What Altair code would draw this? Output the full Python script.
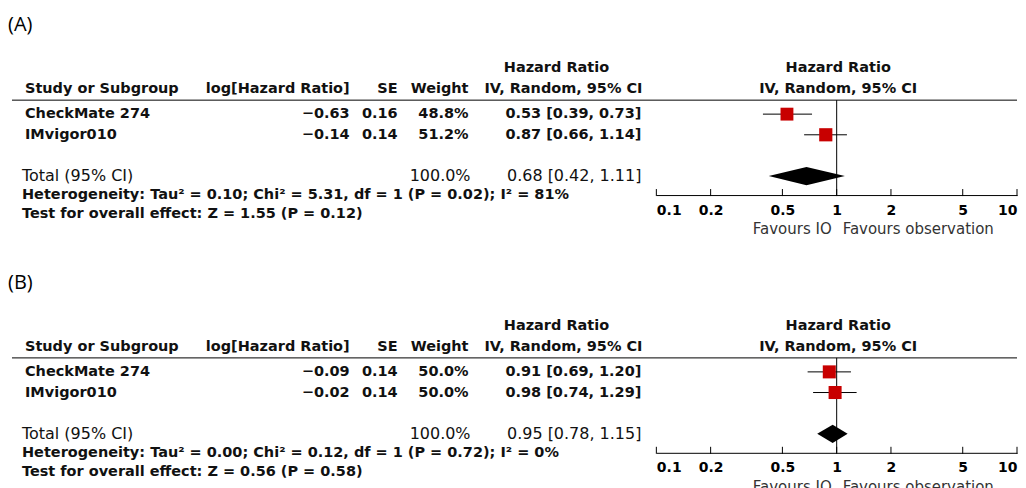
import altair as alt
import pandas as pd

# ---------------- data ----------------
studies = ["CheckMate 274", "IMvigor010"]

a_loghr = [-0.63, -0.14]
a_se = [0.16, 0.14]
a_weight = [48.8, 51.2]
a_hr = [0.53, 0.87]
a_lo = [0.39, 0.66]
a_hi = [0.73, 1.14]
a_total = [0.68, 0.42, 1.11]
a_het = "Heterogeneity: Tau² = 0.10; Chi² = 5.31, df = 1 (P = 0.02); I² = 81%"
a_test = "Test for overall effect: Z = 1.55 (P = 0.12)"

b_loghr = [-0.09, -0.02]
b_se = [0.14, 0.14]
b_weight = [50.0, 50.0]
b_hr = [0.91, 0.98]
b_lo = [0.69, 0.74]
b_hi = [1.20, 1.29]
b_total = [0.95, 0.78, 1.15]
b_het = "Heterogeneity: Tau² = 0.00; Chi² = 0.12, df = 1 (P = 0.72); I² = 0%"
b_test = "Test for overall effect: Z = 0.56 (P = 0.58)"

tick_values = [0.1, 0.2, 0.5, 1, 2, 5, 10]
col_headers = ["Study or Subgroup", "log[Hazard Ratio]", "SE", "Weight"]

# ---------------- style ----------------
W, H = 1010, 187
FONT = "DejaVu Sans"
FS = 14.5
FS_TOT = 16
TXT = "#111111"
RED = "#c80000"

xs = alt.Scale(type="log", domain=[0.1, 10], range=[649, 1010], nice=False)
ys = alt.Scale(domain=[0, 3], range=[106, 168], nice=False, zero=False)
xaxis = alt.Axis(values=tick_values, format="~g", ticks=False, grid=False, title=None,
                 domainColor="black", domainWidth=1, labelFont=FONT, labelFontSize=14,
                 labelFontWeight="bold", labelColor="black", labelPadding=8, labelFlush=True)

one = pd.DataFrame({"k": [0]})


def fmt(v):
    return f"{v:.2f}".replace("-", "−")


def txt(text, x, y, align="left", weight="bold", size=FS, font=FONT, color=TXT):
    return alt.Chart(one).mark_text(text=text, align=align, baseline="middle", font=font,
                                    fontSize=size, fontWeight=weight, color=color).encode(
        x=alt.value(x), y=alt.value(y))


def panel(label, loghr, se, weight, hr, lo, hi, total, het, test):
    df = pd.DataFrame({
        "study": studies,
        "loghr": [fmt(v) for v in loghr],
        "se": [f"{v:.2f}" for v in se],
        "wtxt": [f"{v:.1f}%" for v in weight],
        "w": weight,
        "ci": [f"{h:.2f} [{l:.2f}, {u:.2f}]" for h, l, u in zip(hr, lo, hi)],
        "hr": hr, "lo": lo, "hi": hi,
        "row": list(range(len(studies))),
    })
    trow = len(studies) + 1
    tot = pd.DataFrame({"row": [trow], "ci": [f"{total[0]:.2f} [{total[1]:.2f}, {total[2]:.2f}]"]})
    half = 0.44
    dia = pd.DataFrame({
        "x": [total[1], total[0], total[2]],
        "y": [trow, trow - half, trow],
        "y2": [trow, trow + half, trow],
    })
    ticks = pd.DataFrame({"v": tick_values})

    Y = alt.Y("row:Q", scale=ys, axis=None)

    def col(field, x, align, weight="bold"):
        return alt.Chart(df).mark_text(align=align, baseline="middle", font=FONT, fontSize=FS,
                                       fontWeight=weight, color=TXT).encode(
            x=alt.value(x), y=Y, text=f"{field}:N")

    layers = [
        txt(label, 0, 17, weight="normal", size=20, font="Open Sans", color="black"),
        txt("Hazard Ratio", 549, 60, align="center"),
        txt("Hazard Ratio", 831, 60, align="center"),
        txt(col_headers[0], 17, 81),
        txt(col_headers[1], 342, 81, align="right"),
        txt(col_headers[2], 390, 81, align="right"),
        txt(col_headers[3], 461, 81, align="right"),
        txt("IV, Random, 95% CI", 556, 81, align="center"),
        txt("IV, Random, 95% CI", 831, 81, align="center"),
        alt.Chart(one).mark_rule(color="black", strokeWidth=1).encode(
            x=alt.value(4), x2=alt.value(W), y=alt.value(92)),
        col("study", 17, "left"),
        col("loghr", 342, "right"),
        col("se", 390, "right"),
        col("wtxt", 461, "right"),
        col("ci", 634, "right"),
        alt.Chart(tot).mark_text(text="Total (95% CI)", align="left", baseline="middle", font=FONT,
                                 fontSize=FS_TOT, color=TXT).encode(x=alt.value(14), y=Y),
        alt.Chart(tot).mark_text(text="100.0%", align="right", baseline="middle", font=FONT,
                                 fontSize=FS_TOT, color=TXT).encode(x=alt.value(463), y=Y),
        alt.Chart(tot).mark_text(align="right", baseline="middle", font=FONT,
                                 fontSize=FS_TOT, color=TXT).encode(x=alt.value(634), y=Y, text="ci:N"),
        txt(het, 14, 187),
        txt(test, 14, 206),
        # forest plot
        alt.Chart(ticks).mark_rule(color="black", strokeWidth=1).encode(
            x=alt.X("v:Q", scale=xs, axis=xaxis), y=alt.value(181), y2=alt.value(H + 1)),
        alt.Chart(one).mark_rule(color="black", strokeWidth=1).encode(
            x=alt.datum(1), y=alt.value(92), y2=alt.value(H)),
        alt.Chart(df).mark_rule(color="black", strokeWidth=1).encode(
            x=alt.X("lo:Q", scale=xs, axis=xaxis), x2="hi:Q", y=Y),
        alt.Chart(df).mark_square(color=RED, opacity=1).encode(
            x=alt.X("hr:Q", scale=xs, axis=xaxis), y=Y,
            size=alt.Size("w:Q", scale=alt.Scale(domain=[0, 100], range=[0, 340]), legend=None)),
        alt.Chart(dia).mark_area(color="black", opacity=1).encode(
            x=alt.X("x:Q", scale=xs, axis=xaxis),
            y=alt.Y("y:Q", scale=ys, axis=None), y2="y2:Q"),
        alt.Chart(one).mark_text(text="Favours IO", align="right", baseline="middle", font=FONT,
                                 fontSize=15, color="#333333", dx=-5).encode(
            x=alt.datum(1), y=alt.value(221)),
        alt.Chart(one).mark_text(text="Favours observation", align="left", baseline="middle",
                                 font=FONT, fontSize=15, color="#333333", dx=6).encode(
            x=alt.datum(1), y=alt.value(221)),
    ]
    return alt.layer(*layers).properties(width=W, height=H)


pa = panel("(A)", a_loghr, a_se, a_weight, a_hr, a_lo, a_hi, a_total, a_het, a_test)
pb = panel("(B)", b_loghr, b_se, b_weight, b_hr, b_lo, b_hi, b_total, b_het, b_test)

chart = alt.vconcat(pa, pb, spacing=71, bounds="flush").properties(padding=0).configure_view(
    stroke=None)

chart.save("out.html", embed_options={"renderer": "svg", "actions": False})
